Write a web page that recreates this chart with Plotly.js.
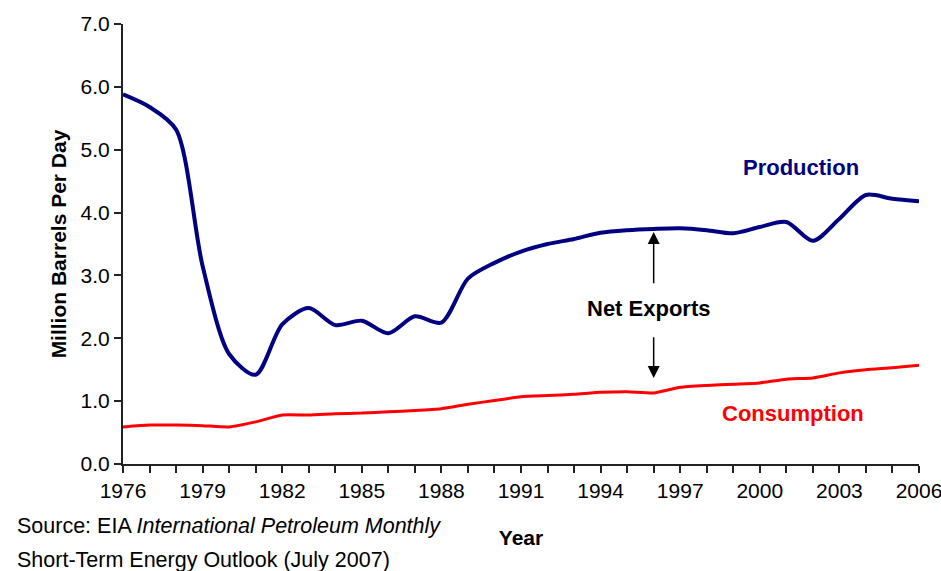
<!DOCTYPE html>
<html>
<head>
<meta charset="utf-8">
<script src="https://cdn.plot.ly/plotly-3.0.1.min.js"></script>
<style>html,body{margin:0;padding:0;background:#fff;}#chart{width:941px;height:571px;}</style>
</head>
<body>
<div id="chart"></div>
<script>
const years = [1976,1977,1978,1979,1980,1981,1982,1983,1984,1985,1986,1987,1988,1989,1990,1991,1992,1993,1994,1995,1996,1997,1998,1999,2000,2001,2002,2003,2004,2005,2006];
const production = [5.88,5.68,5.32,3.15,1.75,1.42,2.22,2.48,2.21,2.28,2.08,2.35,2.25,2.95,3.20,3.38,3.50,3.58,3.68,3.72,3.74,3.75,3.72,3.67,3.77,3.85,3.55,3.90,4.28,4.22,4.18];
const consumption = [0.59,0.62,0.62,0.61,0.59,0.67,0.78,0.78,0.80,0.81,0.83,0.85,0.88,0.95,1.01,1.07,1.09,1.11,1.14,1.15,1.13,1.22,1.25,1.27,1.29,1.35,1.37,1.45,1.50,1.53,1.57];
const yTicks = [0,1,2,3,4,5,6,7];
const xTicks = [1976,1979,1982,1985,1988,1991,1994,1997,2000,2003,2006];

const F = 'Liberation Sans, Arial, sans-serif';
const traces = [
  {x: years, y: production, type: 'scatter', mode: 'lines', name: 'Production',
   line: {color: '#000080', width: 4, shape: 'spline', smoothing: 0.8}},
  {x: years, y: consumption, type: 'scatter', mode: 'lines', name: 'Consumption',
   line: {color: '#ff0000', width: 3, shape: 'spline', smoothing: 0.5}}
];
const layout = {
  width: 941, height: 571,
  margin: {l: 123, r: 22, t: 24, b: 107},
  paper_bgcolor: '#fff', plot_bgcolor: '#fff',
  showlegend: false,
  font: {family: F, color: '#000', size: 20},
  xaxis: {
    range: [1976, 2006], tickvals: xTicks, ticktext: xTicks.map(String),
    automargin: false, ticklabeloverflow: 'allow',
    showgrid: false, zeroline: false, showline: true, linecolor: '#222', linewidth: 2,
    ticks: 'outside', ticklen: 7, tickwidth: 2, tickcolor: '#222',
    minor: {tickvals: years, ticks: 'outside', ticklen: 7, tickwidth: 2, tickcolor: '#222', showgrid: false},
    tickfont: {family: F, size: 21, color: '#000'},
    title: {text: '<b>Year</b>', font: {family: F, size: 21, color: '#000'}, standoff: 29}
  },
  yaxis: {
    range: [0, 7], tickvals: yTicks, tickformat: '.1f',
    automargin: false,
    showgrid: false, zeroline: false, showline: true, linecolor: '#222', linewidth: 2,
    ticks: 'outside', ticklen: 7, tickwidth: 2, tickcolor: '#222',
    tickfont: {family: F, size: 21, color: '#000'},
    title: {text: '<b>Million Barrels Per Day</b>', font: {family: F, size: 21, color: '#000'}, standoff: 8}
  },
  annotations: [
    {x: 2001.55, y: 4.71, xref: 'x', yref: 'y', text: '<b>Production</b>', showarrow: false,
     font: {family: F, size: 22, color: '#000080'}},
    {x: 2001.25, y: 0.81, xref: 'x', yref: 'y', text: '<b>Consumption</b>', showarrow: false,
     font: {family: F, size: 22, color: '#ff0000'}},
    {x: 1995.8, y: 2.48, xref: 'x', yref: 'y', text: '<b>Net Exports</b>', showarrow: false,
     font: {family: F, size: 22, color: '#000'}},
    {x: 1996, y: 3.69, ax: 1996, ay: 2.85, xref: 'x', yref: 'y', axref: 'x', ayref: 'y', text: '',
     showarrow: true, arrowhead: 2, arrowsize: 1.6, arrowwidth: 1.5, arrowcolor: '#000'},
    {x: 1996, y: 1.37, ax: 1996, ay: 2.04, xref: 'x', yref: 'y', axref: 'x', ayref: 'y', text: '',
     showarrow: true, arrowhead: 2, arrowsize: 1.6, arrowwidth: 1.5, arrowcolor: '#000'},
    {x: -0.1357, y: -0.141, xref: 'paper', yref: 'paper', xanchor: 'left', yanchor: 'middle',
     text: 'Source: EIA <i>International Petroleum Monthly</i>', showarrow: false,
     font: {family: F, size: 21.5, color: '#000'}},
    {x: -0.1357, y: -0.218, xref: 'paper', yref: 'paper', xanchor: 'left', yanchor: 'middle',
     text: 'Short-Term Energy Outlook (July 2007)', showarrow: false,
     font: {family: F, size: 21.5, color: '#000'}}
  ]
};
Plotly.newPlot('chart', traces, layout, {displayModeBar: false, staticPlot: true});
</script>
</body>
</html>
